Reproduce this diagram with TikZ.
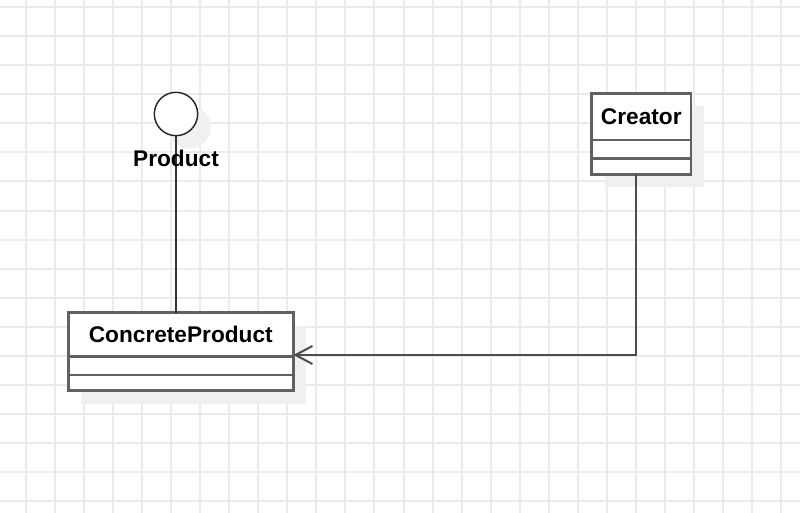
\documentclass[tikz,border=0pt]{standalone}
\usepackage{fontspec}
\setmainfont{Liberation Sans}
\usepackage{tikz}
\usepackage{xcolor}
\tikzset{x=0.75pt, y=-0.75pt,
 gridline/.style={draw=black!8, line width=1.5pt},
 shade/.style={drop shadow={shadow xshift=9.75pt, shadow yshift=-9.75pt, fill=black!6, opacity=1}},
 classname/.style={draw=black!62, line width=2pt, fill=white, shade, inner sep=0pt, outer sep=0pt,
   font=\fontsize{17}{20}\selectfont\bfseries},
 classpart/.style={draw=black!62, line width=2pt, fill=white, shade, inner sep=0pt, outer sep=0pt},
 iface/.style={circle, draw=black!85, line width=1.1pt, fill=white, shade, inner sep=0pt, minimum size=32.5pt},
 ifacelabel/.style={font=\fontsize{17}{20}\selectfont\bfseries},
 realize/.style={draw=black!80, line width=1.5pt},
 assoc/.style={draw=black!70, line width=1.5pt, -{Straight Barb[length=12.75pt, width=13.5pt]}},
 }
\usetikzlibrary{positioning}
\usetikzlibrary{shadows}
\usetikzlibrary{arrows.meta}

\begin{document}
\begin{tikzpicture}
        \useasboundingbox[fill=white] (0,0) rectangle (800,513);
        \foreach \gx in {0,...,26}
            \draw[gridline] ({26+29.04*\gx},0) -- ({26+29.04*\gx},513);
        \foreach \gy in {0,...,17}
            \draw[gridline] (0,{7.3+29.03*\gy}) -- (800,{7.3+29.03*\gy});

        \node[iface] (product) at (176,114) {};

        \node[classname, minimum width=168.75pt, minimum height=33pt] (concrete) at (180.8,334.7) {ConcreteProduct};
        \node[classpart, minimum width=168.75pt, minimum height=13.7pt, below=0pt of concrete] (concreteattr) {};
        \node[classpart, minimum width=168.75pt, minimum height=11.8pt, below=0pt of concreteattr] (concreteops) {};

        \node[classname, minimum width=74.5pt, minimum height=35pt] (creator) at (641.3,116.7) {Creator};
        \node[classpart, minimum width=74.5pt, minimum height=13.7pt, below=0pt of creator] (creatorattr) {};
        \node[classpart, minimum width=74.5pt, minimum height=12pt, below=0pt of creatorattr] (creatorops) {};

        \draw[realize] (product.south) -- (product.south |- concrete.north);
        \node[ifacelabel] (productlabel) at (176,158) {Product};

        \coordinate (turn) at (636,355);
        \draw[assoc] (creatorops.south -| turn) -- (turn) -- (turn -| concrete.east);
    \end{tikzpicture}
\end{document}
